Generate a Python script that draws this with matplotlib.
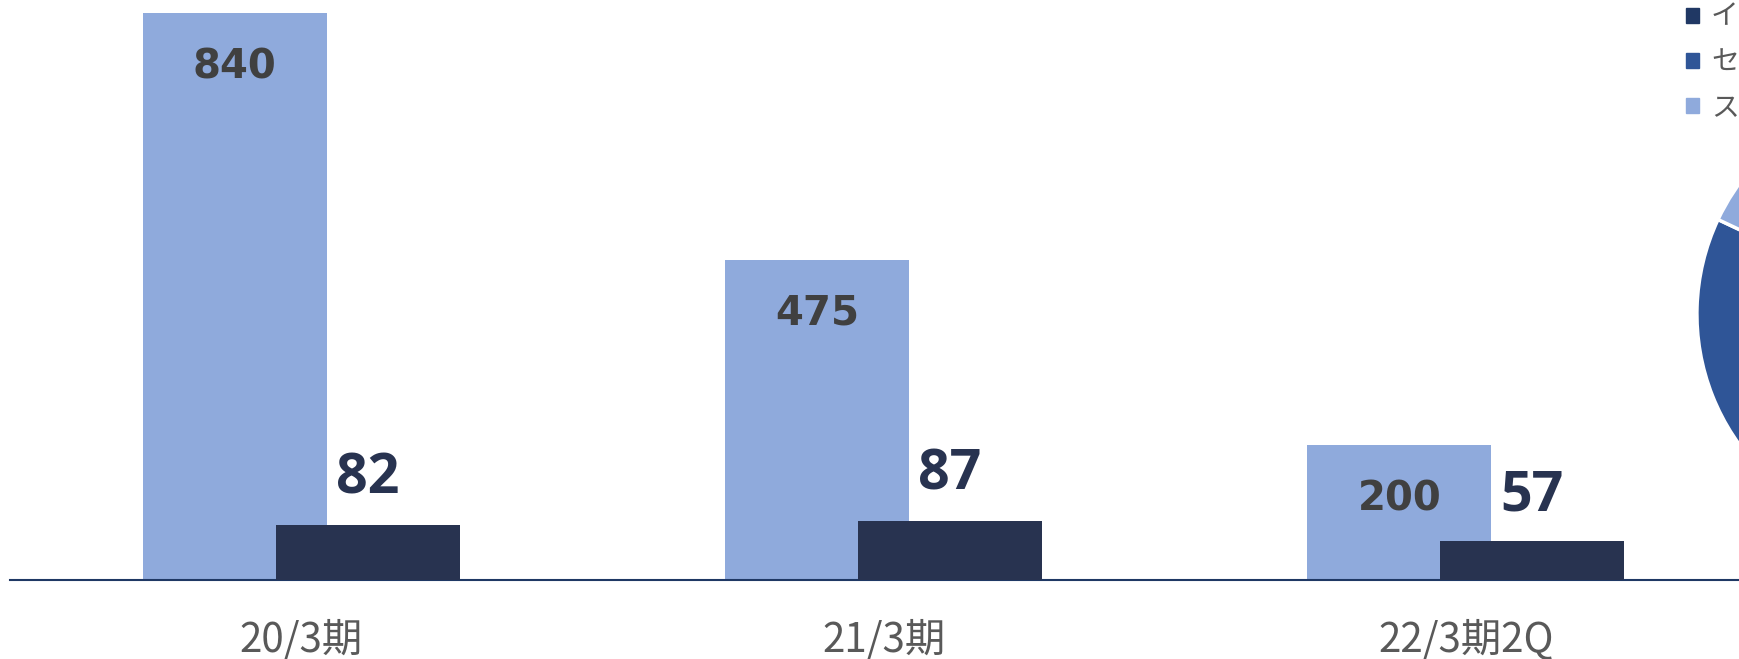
import numpy as np
import matplotlib.pyplot as plt
from matplotlib.patches import Patch

# data
categories = ['20/3期', '21/3期', '22/3期2Q']
light_vals = [840, 475, 200]
dark_vals = [82, 87, 57]

pie_labels = ['イメージング', 'セキュリティ', 'ストレージ']
pie_vals = [30, 52, 18]
pie_colors = ['#203864', '#2F5597', '#8FAADC']

light_col = '#8FAADC'
dark_col = '#283350'

fig = plt.figure(figsize=(17.39, 6.59), dpi=100)
ax = fig.add_axes([10 / 1739, 0.12, 1747 / 1739, 0.88])

x = np.arange(len(categories))
w = 0.316
off = 0.114
bars_l = ax.bar(x - off, light_vals, width=w, color=light_col, zorder=2)
bars_d = ax.bar(x + off, dark_vals, width=w, color=dark_col, zorder=3)

# value labels: inside the top of the light bars, above the dark bars
for b, v in zip(bars_l, light_vals):
    ax.annotate(str(v), (b.get_x() + b.get_width() / 2, v), xytext=(0, -39),
                textcoords='offset points', ha='center', va='center',
                fontsize=29, fontweight='bold', color='#404040',
                family='DejaVu Sans', zorder=4)
for b, v in zip(bars_d, dark_vals):
    ax.annotate(str(v), (b.get_x() + b.get_width() / 2, v), xytext=(0, 33),
                textcoords='offset points', ha='center', va='center',
                fontsize=40, fontweight='bold', color=dark_col,
                family='Open Sans', zorder=4)

ax.set_xlim(-0.5, 2.5)
ax.set_ylim(0, 860)
ax.set_xticks(x)
ax.set_xticklabels(categories, fontsize=29, color='#595959', family='Noto Sans CJK JP')
ax.tick_params(axis='x', length=0, pad=29)
ax.set_yticks([])
for s in ['top', 'right', 'left']:
    ax.spines[s].set_visible(False)
ax.spines['bottom'].set_color('#1F3864')
ax.spines['bottom'].set_linewidth(1.5)
ax.patch.set_alpha(0)

# pie mostly off the right edge
pax = fig.add_axes([0.9758, 0.1866, 0.2553, 0.6737])
wedges, _ = pax.pie(pie_vals, colors=pie_colors, startangle=90, counterclock=False,
                    wedgeprops=dict(edgecolor='white', linewidth=2.5))
pax.set_xlim(-1, 1)
pax.set_ylim(-1, 1)

handles = [Patch(color=c) for c in pie_colors]
fig.legend(handles, pie_labels, loc='upper left', bbox_to_anchor=(1686 / 1739, 1 - 2 / 659),
           frameon=False, borderpad=0, borderaxespad=0, handlelength=0.45, handleheight=0.45,
           handletextpad=0.45, labelspacing=0.55,
           prop={'family': 'Noto Sans CJK JP', 'size': 20}, labelcolor='#595959')

plt.savefig('out.png', dpi=100)
